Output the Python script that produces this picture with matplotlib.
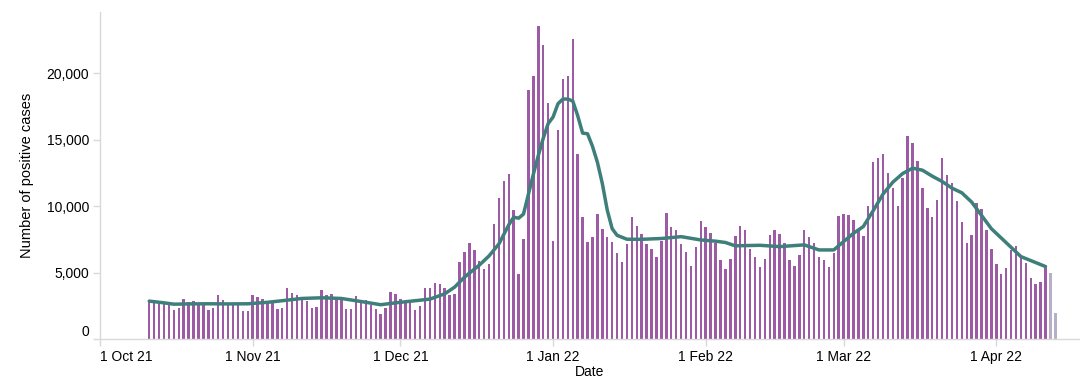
import numpy as np
import matplotlib
matplotlib.use("Agg")
import matplotlib.pyplot as plt
import matplotlib.transforms as mtrans

plt.rcParams['font.family'] = ['Liberation Sans', 'DejaVu Sans']

# daily positive cases, 11 Oct 21 .. 13 Apr 22 (last two days incomplete)
start_date = "2021-10-11"
daily_cases = [
    2810, 2735, 2710, 2710, 2690, 2160, 2335, 3035, 2785, 2860,
    2535, 2535, 2160, 2335, 3313, 2937, 2610, 2535, 2610, 2085,
    2085, 3313, 3138, 3035, 2785, 2785, 2260, 2335, 3840, 3490,
    3288, 3188, 2860, 2335, 2435, 3665, 3313, 3390, 2937, 2937,
    2235, 2235, 3238, 2937, 2937, 2535, 2260, 1883, 2335, 3515,
    3390, 3000, 2860, 2700, 2170, 2510, 3850, 3850, 4190, 4115,
    3800, 3313, 3390, 5800, 6575, 7200, 6700, 5850, 5295, 5620,
    8635, 10590, 11900, 12450, 9690, 4920, 7505, 18750, 19800, 23545,
    22140, 17750, 7400, 15740, 19555, 19800, 22565, 13900, 9160, 7280,
    7655, 9410, 8280, 7655, 7280, 6500, 5800, 7130, 9160, 8530,
    7905, 7130, 6777, 6150, 7380, 9510, 8435, 8185, 7130, 6575,
    5520, 6930, 8885, 8435, 8005, 7205, 5950, 5245, 6050, 7730,
    8530, 8185, 6750, 6150, 5445, 6050, 7830, 8185, 7905, 7205,
    5950, 5520, 6325, 8185, 7655, 7205, 6150, 5950, 5445, 6500,
    9260, 9410, 9340, 8985, 8185, 7755, 10040, 13330, 13580, 13955,
    12525, 11370, 10015, 12075, 15285, 14735, 13400, 11370, 9840, 9160,
    10490, 13580, 12325, 11720, 10415, 8785, 7205, 7830, 10215, 9765,
    8185, 6750, 5620, 4895, 5320, 6700, 7030, 6325, 5700, 4620,
    4115, 4320, 5320, 4995, 1985,
]
n_incomplete = 2

# smoothed average line
avg_dates = [
    "2021-10-11", "2021-10-14", "2021-10-16", "2021-10-19", "2021-10-23",
    "2021-10-27", "2021-10-31", "2021-11-04", "2021-11-07", "2021-11-11",
    "2021-11-15", "2021-11-19", "2021-11-23", "2021-11-27", "2021-11-30",
    "2021-12-04", "2021-12-07", "2021-12-10", "2021-12-12", "2021-12-14",
    "2021-12-17", "2021-12-19", "2021-12-21", "2021-12-23", "2021-12-24",
    "2021-12-25", "2021-12-26", "2021-12-27", "2021-12-28", "2021-12-29",
    "2021-12-30", "2021-12-31", "2022-01-01", "2022-01-02", "2022-01-03",
    "2022-01-04", "2022-01-05", "2022-01-06", "2022-01-07", "2022-01-08",
    "2022-01-09", "2022-01-10", "2022-01-11", "2022-01-12", "2022-01-13",
    "2022-01-14", "2022-01-16", "2022-01-19", "2022-01-23", "2022-01-27",
    "2022-01-31", "2022-02-03", "2022-02-05", "2022-02-07", "2022-02-12",
    "2022-02-16", "2022-02-21", "2022-02-24", "2022-02-27", "2022-03-01",
    "2022-03-03", "2022-03-05", "2022-03-07", "2022-03-09", "2022-03-11",
    "2022-03-13", "2022-03-15", "2022-03-17", "2022-03-19", "2022-03-21",
    "2022-03-23", "2022-03-25", "2022-03-27", "2022-03-29", "2022-03-31",
    "2022-04-02", "2022-04-04", "2022-04-06", "2022-04-09", "2022-04-11",
]
avg_cases = [
    2850, 2720, 2620, 2640, 2650,
    2640, 2650, 2760, 2880, 3050,
    3100, 3050, 2820, 2580, 2720,
    2880, 3000, 3400, 3900, 4650,
    5550, 6250, 7150, 8585, 9160,
    9090, 9400, 10900, 12400, 13800,
    15100, 16200, 16700, 17700, 18050,
    18050, 17900, 16800, 15490, 15440,
    14500, 13300, 11700, 9700, 8300,
    7800, 7505, 7500, 7560, 7700,
    7450, 7360, 7260, 7010, 7050,
    6950, 7080, 6700, 6700, 7330,
    7950, 8460, 9650, 10900, 11800,
    12450, 12850, 12700, 12250, 11850,
    11350, 11000, 10300, 9300, 8300,
    7600, 6900, 6200, 5750, 5450,
]

tick_dates = ["2021-10-01", "2021-11-01", "2021-12-01", "2022-01-01",
              "2022-02-01", "2022-03-01", "2022-04-01"]
tick_labels = ["1 Oct 21", "1 Nov 21", "1 Dec 21", "1 Jan 22",
               "1 Feb 22", "1 Mar 22", "1 Apr 22"]
y_ticks = [0, 5000, 10000, 15000, 20000]

purple = "#9d5ba6"
grey = "#b5b0c6"
teal = "#3e7f7b"
axis_grey = "#d9d9d9"

days = np.arange(np.datetime64(start_date), np.datetime64(start_date) + len(daily_cases))
colors = [purple] * (len(daily_cases) - n_incomplete) + [grey] * n_incomplete

fig = plt.figure(figsize=(10.8, 3.9), dpi=100)
ax = fig.add_axes([100 / 1080, 51 / 390, 980 / 1080, 327 / 390])

ax.bar(days, daily_cases, width=0.5, color=colors, linewidth=0)
ax.plot(np.array(avg_dates, dtype="datetime64[D]"), avg_cases, color=teal, lw=2.5,
        solid_capstyle="round", solid_joinstyle="round")

ax.set_xlim(np.datetime64("2021-10-01"), np.datetime64("2021-10-01") + np.timedelta64(199, "D"))
ax.set_ylim(0, 24600)

for s in ["top", "right"]:
    ax.spines[s].set_visible(False)
for s in ["left", "bottom"]:
    ax.spines[s].set_color(axis_grey)
    ax.spines[s].set_linewidth(1)

ax.set_xticks(np.array(tick_dates, dtype="datetime64[D]"))
ax.set_xticklabels(tick_labels)
ax.set_yticks(y_ticks)
ax.set_yticklabels([f"{v:,}" for v in y_ticks])
ax.tick_params(axis="both", colors=axis_grey, labelcolor="black", labelsize=10,
               length=5, width=1)
ax.tick_params(axis="y", pad=3)
ax.tick_params(axis="x", pad=3)

# first x label flush with the axis start, zero label nudged up
xl = ax.get_xticklabels()
xl[0].set_ha("left")
yl = ax.get_yticklabels()
yl[0].set_transform(yl[0].get_transform() + mtrans.ScaledTranslation(0, 8 / 100, fig.dpi_scale_trans))

ax.set_xlabel("Date", fontsize=10, labelpad=1)
ax.set_ylabel("Number of positive cases", fontsize=10.5, labelpad=9)

fig.savefig("out.png", dpi=100)
